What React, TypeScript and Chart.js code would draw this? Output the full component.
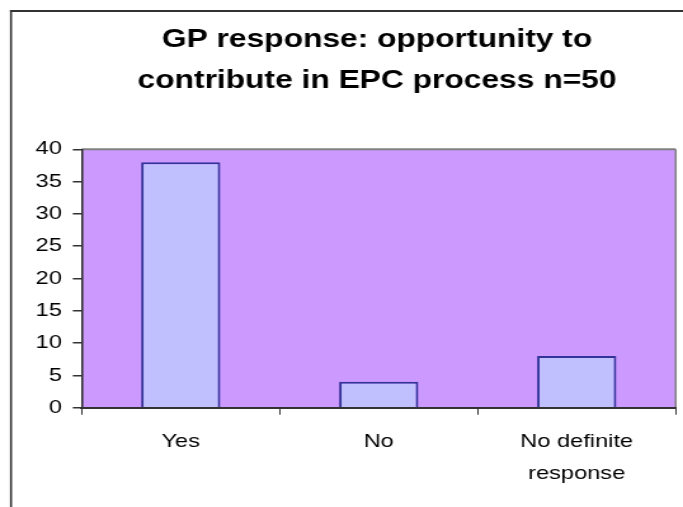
import { useEffect, useRef } from "react";
import { Chart, registerables } from "chart.js";

Chart.register(...registerables);

// Survey answers
const categories: (string | string[])[] = ["Yes", "No", ["No definite", "response"]];
const responses: number[] = [38, 4, 8];
const yTickValues: number[] = [0, 5, 10, 15, 20, 25, 30, 35, 40];
const titleLines: string[] = ["GP response: opportunity to", "contribute in EPC process n=50"];

// The drawing surface is rendered narrower and widened by CSS, so lettering
// comes out broad, as in the original export.
const VIEW_W = 683;
const VIEW_H = 507;
const CANVAS_W = 538;
const SX = VIEW_W / CANVAS_W;
const px = (x: number) => x / SX;

const FONT = "Arial, 'Liberation Sans', sans-serif";

const PLOT_TOP = 149.3;
const PLOT_BOTTOM = 407.7;
const PLOT_LEFT = 81.7;
const PLOT_RIGHT = 675.7;

const chartDecor = {
  id: "chartDecor",
  beforeDraw(chart: Chart) {
    const { ctx, chartArea: a } = chart;
    ctx.save();
    // plot area fill
    ctx.fillStyle = "#CC99FF";
    ctx.fillRect(a.left, a.top, a.right - a.left, a.bottom - a.top);
    // plot area border (top and right)
    ctx.strokeStyle = "#808080";
    ctx.lineWidth = 2;
    ctx.beginPath();
    ctx.moveTo(a.left, a.top);
    ctx.lineTo(a.right, a.top);
    ctx.stroke();
    ctx.lineWidth = 2 / SX;
    ctx.beginPath();
    ctx.moveTo(a.right, a.top);
    ctx.lineTo(a.right, a.bottom);
    ctx.stroke();
    // outer chart frame
    ctx.strokeStyle = "#333333";
    ctx.lineWidth = 2;
    ctx.beginPath();
    ctx.moveTo(px(10), 11);
    ctx.lineTo(chart.width, 11);
    ctx.stroke();
    ctx.lineWidth = 2 / SX;
    ctx.beginPath();
    ctx.moveTo(px(11), 10);
    ctx.lineTo(px(11), chart.height);
    ctx.stroke();
    // title
    ctx.fillStyle = "#000000";
    ctx.font = `bold 25px ${FONT}`;
    ctx.textAlign = "center";
    ctx.textBaseline = "alphabetic";
    const cx = px(377);
    ctx.fillText(titleLines[0], cx, 46.7);
    ctx.fillText(titleLines[1], cx, 88.3);
    ctx.restore();
  },
};

export default function App() {
  const canvasRef = useRef<HTMLCanvasElement | null>(null);

  useEffect(() => {
    const canvas = canvasRef.current;
    if (!canvas) return;
    const chart = new Chart(canvas, {
      type: "bar",
      data: {
        labels: categories,
        datasets: [
          {
            data: responses,
            backgroundColor: "#C0C0FF",
            borderColor: "#333399",
            borderWidth: 2,
            barPercentage: 0.4,
            categoryPercentage: 1,
          },
        ],
      },
      plugins: [chartDecor],
      options: {
        animation: false,
        responsive: false,
        devicePixelRatio: 1,
        layout: {
          padding: { top: PLOT_TOP, right: CANVAS_W - px(PLOT_RIGHT), bottom: 0, left: 0 },
        },
        plugins: {
          legend: { display: false },
          title: { display: false },
          tooltip: { enabled: false },
        },
        scales: {
          x: {
            grid: {
              offset: true,
              drawOnChartArea: false,
              drawTicks: true,
              tickLength: 7,
              color: "#333333",
              lineWidth: 1,
            },
            border: { display: true, color: "#333333", width: 2 },
            ticks: {
              color: "#000000",
              font: { family: FONT, size: 18.6, lineHeight: 1.7 },
              padding: 11.5,
              maxRotation: 0,
              autoSkip: false,
            },
            afterFit(scale: any) {
              scale.height = VIEW_H - PLOT_BOTTOM;
            },
          },
          y: {
            min: yTickValues[0],
            max: yTickValues[yTickValues.length - 1],
            afterBuildTicks(scale: any) {
              scale.ticks = yTickValues.map((v) => ({ value: v }));
            },
            grid: {
              drawOnChartArea: false,
              drawTicks: true,
              tickLength: 7,
              color: "#333333",
              lineWidth: 1.5,
            },
            border: { display: true, color: "#333333", width: 1.6 },
            ticks: {
              color: "#000000",
              font: { family: FONT, size: 18.6 },
              padding: 8.6,
            },
            afterFit(scale: any) {
              scale.width = px(PLOT_LEFT);
            },
          },
        },
      },
    });
    return () => chart.destroy();
  }, []);

  return (
    <div style={{ position: "absolute", left: 0, top: 0, width: VIEW_W, height: VIEW_H, background: "#ffffff" }}>
      <canvas
        ref={canvasRef}
        width={CANVAS_W}
        height={VIEW_H}
        style={{ width: `${VIEW_W}px`, height: `${VIEW_H}px`, display: "block" }}
      />
    </div>
  );
}
